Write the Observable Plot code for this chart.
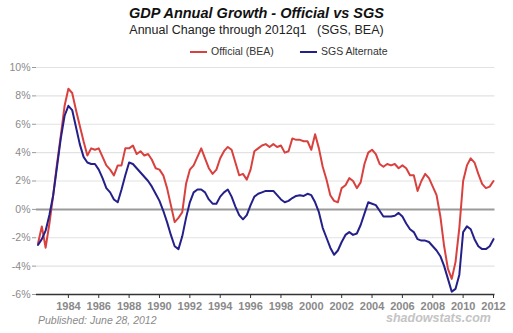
<!DOCTYPE html>
<html>
<head>
<meta charset="utf-8">
<script src="https://cdn.jsdelivr.net/npm/d3@7"></script>
<script src="https://cdn.jsdelivr.net/npm/@observablehq/plot@0.6"></script>
<style>
  html, body { margin: 0; padding: 0; background: #fff; }
  body { width: 513px; height: 333px; position: relative; overflow: hidden; font-family: "Liberation Sans", Arial, sans-serif; }
  .abs { position: absolute; white-space: pre; }
  #title { top: 5px; left: 0; width: 513px; text-align: center; font-size: 14.5px; font-weight: bold; font-style: italic; color: #111; }
  #subtitle { top: 23px; left: 0; width: 513px; text-align: center; font-size: 12.5px; color: #222; }
  .leg { top: 45px; font-size: 10.5px; color: #333; }
  .sw { position: absolute; top: 51px; height: 2px; width: 17px; }
  #chart { position: absolute; top: 58px; left: 0; }
  #pub { top: 315px; left: 38px; font-size: 10.5px; line-height: 1; font-style: italic; color: #8a8a8a; }
  #brand { top: 312px; left: 386px; font-size: 12.5px; line-height: 1; font-weight: bold; font-style: italic; color: #c4c4c4; }
</style>
</head>
<body>
<div id="title" class="abs">GDP Annual Growth - Official vs SGS</div>
<div id="subtitle" class="abs">Annual Change through 2012q1   (SGS, BEA)</div>
<div class="sw" style="left:190px;background:#d9413f;"></div>
<div class="abs leg" style="left:211px;">Official (BEA)</div>
<div class="sw" style="left:300px;background:#24208a;"></div>
<div class="abs leg" style="left:321px;">SGS Alternate</div>
<div id="chart"></div>
<div id="pub" class="abs">Published: June 28, 2012</div>
<div id="brand" class="abs">shadowstats.com</div>
<script>
const startYear = 1982;
const official = [
  -2.4, -1.2, -2.7, -1.0,
  1.0, 3.2, 5.2, 7.3,
  8.5, 8.2, 7.0, 5.9,
  4.8, 3.8, 4.3, 4.2,
  4.3, 3.7, 3.1, 2.8,
  2.4, 3.1, 3.1, 4.3,
  4.3, 4.5, 3.9, 4.1,
  3.8, 3.9, 3.5, 2.9,
  2.8, 2.4, 1.5, 0.3,
  -0.9, -0.6, -0.2, 1.8,
  2.8, 3.1, 3.7, 4.3,
  3.6, 2.9, 2.5, 2.8,
  3.6, 4.1, 4.4, 4.2,
  3.3, 2.4, 2.5, 2.1,
  2.8, 4.1, 4.3, 4.5,
  4.6, 4.4, 4.6, 4.4,
  4.5, 4.0, 4.1, 5.0,
  4.9, 4.9, 4.8, 4.8,
  4.2, 5.3, 4.3, 3.0,
  2.1, 1.0, 0.6, 0.5,
  1.5, 1.7, 2.2, 2.0,
  1.5, 1.9, 3.2, 4.0,
  4.2, 3.9, 3.2, 3.0,
  3.2, 3.1, 3.2, 2.9,
  3.1, 2.9, 2.4, 2.4,
  1.3, 2.0, 2.5, 2.2,
  1.6, 1.0, -0.5, -2.6,
  -4.2, -4.9, -3.7, -1.3,
  2.0, 3.1, 3.6, 3.3,
  2.5, 1.8, 1.5, 1.6,
  2.0
];
const sgs = [
  -2.5, -2.1, -1.5, -0.4,
  1.0, 3.0, 5.0, 6.6,
  7.3, 7.0, 5.8, 4.6,
  3.7, 3.3, 3.2, 3.2,
  2.8, 2.2, 1.5, 1.2,
  0.7, 0.5, 1.4, 2.4,
  3.3, 3.2, 2.9, 2.6,
  2.3, 2.0, 1.6, 1.1,
  0.6, -0.1, -0.9, -1.8,
  -2.6, -2.8, -1.9, -0.6,
  0.5, 1.2, 1.4, 1.4,
  1.2, 0.7, 0.4, 0.4,
  0.9, 1.2, 1.4, 0.9,
  0.2, -0.4, -0.7, -0.4,
  0.3, 0.9, 1.1, 1.2,
  1.3, 1.3, 1.3, 1.0,
  0.7, 0.5, 0.6, 0.8,
  0.95, 1.0, 0.95, 1.1,
  1.0, 0.5, -0.2, -1.3,
  -2.0, -2.7, -3.2, -2.9,
  -2.3, -1.8, -1.6, -1.8,
  -1.7, -1.1, -0.3, 0.5,
  0.4, 0.3, -0.1, -0.5,
  -0.5, -0.5, -0.45, -0.25,
  -0.5, -1.0, -1.4, -1.6,
  -2.1, -2.2, -2.2, -2.3,
  -2.6, -2.9, -3.3, -4.0,
  -4.9, -5.8, -5.6, -4.6,
  -1.6, -1.2, -1.4, -2.1,
  -2.6, -2.8, -2.8, -2.6,
  -2.1
];
const xTicks = [1984, 1986, 1988, 1990, 1992, 1994, 1996, 1998, 2000, 2002, 2004, 2006, 2008, 2010, 2012];
const yTicks = [-6, -4, -2, 0, 2, 4, 6, 8, 10];
const seriesNames = ["Official (BEA)", "SGS Alternate"];
const seriesColors = ["#d9413f", "#24208a"];

const rows = [];
official.forEach((v, i) => rows.push({t: startYear + i / 4, v, s: seriesNames[0]}));
sgs.forEach((v, i) => rows.push({t: startYear + i / 4, v, s: seriesNames[1]}));

const chart = Plot.plot({
  width: 513,
  height: 262,
  marginTop: 9,
  marginBottom: 26,
  marginLeft: 36,
  marginRight: 20,
  style: {fontFamily: "'Liberation Sans', Arial, sans-serif", background: "transparent"},
  x: {domain: [1981.9, 2012], label: null},
  y: {domain: [-6, 10], label: null},
  color: {domain: seriesNames, range: seriesColors},
  marks: [
    Plot.ruleY(yTicks.filter(d => d !== 0 && d !== -6), {stroke: "#e2e2e2", strokeWidth: 1.2, x1: 1981.9, x2: 2012.1}),
    Plot.ruleY([0], {stroke: "#9a9a9a", strokeWidth: 2, x1: 1981.9, x2: 2012.1}),
    Plot.ruleY([-6], {stroke: "#333", strokeWidth: 1.3, x1: 1981.9, x2: 2012.1}),
    Plot.axisY({ticks: yTicks, tickFormat: d => d + "%", label: null, tickSize: 4, tickPadding: 2, stroke: "#999", fill: "#8a8a8a", fontSize: 10.5}),
    Plot.axisX({ticks: xTicks, tickFormat: d => String(d), label: null, tickSize: 4, tickPadding: 4, stroke: "#333", fill: "#8a8a8a", fontSize: 11, fontWeight: "bold"}),
    Plot.line(rows, {x: "t", y: "v", z: "s", stroke: "s", strokeWidth: 2, strokeLinejoin: "round"})
  ]
});
document.getElementById("chart").appendChild(chart);
</script>
</body>
</html>
